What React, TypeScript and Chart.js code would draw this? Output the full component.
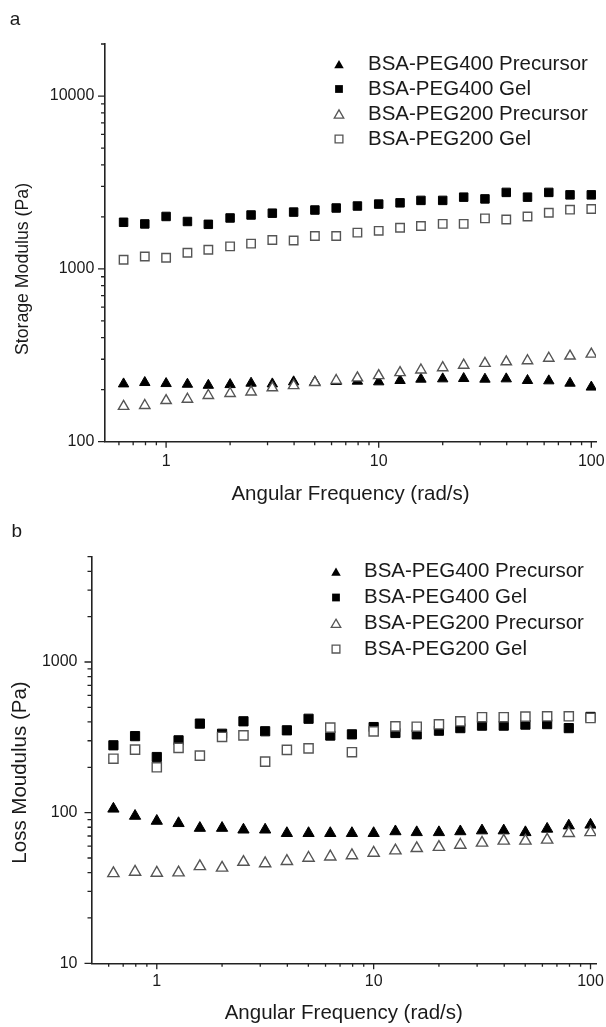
import React, { useEffect, useRef } from 'react';
import { Chart, registerables } from 'chart.js';

Chart.register(...registerables);

// ---------- data ----------
const FREQ = [0.631, 0.794, 1, 1.26, 1.58, 2, 2.51, 3.16, 3.98, 5.01, 6.31, 7.94, 10, 12.6, 15.8, 20, 25.1, 31.6, 39.8, 50.1, 63.1, 79.4, 100];

const SERIES_NAMES = ['BSA-PEG400 Precursor', 'BSA-PEG400 Gel', 'BSA-PEG200 Precursor', 'BSA-PEG200 Gel'];

const STORAGE_PEG400_PRECURSOR = [216, 220, 217, 215, 212, 214, 218, 216, 222, 222, 223, 224, 222, 226, 230, 231, 232, 230, 231, 226, 225, 218, 207];
const STORAGE_PEG400_GEL = [1860, 1820, 2010, 1880, 1810, 1970, 2050, 2100, 2130, 2190, 2250, 2310, 2370, 2410, 2490, 2490, 2600, 2540, 2770, 2600, 2770, 2680, 2680];
const STORAGE_PEG200_PRECURSOR = [160, 162, 173, 176, 185, 190, 194, 205, 211, 220, 226, 234, 241, 251, 260, 268, 277, 284, 290, 294, 304, 313, 321];
const STORAGE_PEG200_GEL = [1130, 1180, 1160, 1240, 1290, 1350, 1400, 1470, 1460, 1550, 1550, 1620, 1660, 1730, 1770, 1820, 1820, 1960, 1930, 2010, 2110, 2200, 2220];

const LOSS_PEG400_PRECURSOR = [106, 95, 88, 85, 79, 79, 77, 77, 73, 73, 73, 73, 73, 75, 74, 74, 75, 76, 76, 74, 78, 82, 83];
const LOSS_PEG400_GEL = [280, 322, 234, 302, 390, 334, 404, 347, 352, 420, 325, 331, 370, 338, 331, 350, 364, 378, 378, 384, 387, 364, 432];
const LOSS_PEG200_PRECURSOR = [39.5, 40.4, 39.8, 40, 44, 43, 47, 46, 47.6, 50, 51, 52, 54, 56, 58, 59, 61, 63, 65, 65, 66, 73, 74];
const LOSS_PEG200_GEL = [228, 262, 200, 269, 239, 318, 326, 218, 261, 267, 367, 252, 346, 374, 372, 386, 404, 430, 430, 434, 436, 436, 425];

const X_TITLE = 'Angular Frequency (rad/s)';
const X_TICKS = [0.6, 0.7, 0.8, 0.9, 1, 2, 3, 4, 5, 6, 7, 8, 9, 10, 20, 30, 40, 50, 60, 70, 80, 90, 100];
const X_TICK_LABELS = [1, 10, 100];

const Y_TICKS_A = [100, 200, 300, 400, 500, 600, 700, 800, 900, 1000, 2000, 3000, 4000, 5000, 6000, 7000, 8000, 9000, 10000, 20000];
const Y_TICK_LABELS_A = [100, 1000, 10000];
const Y_TICKS_B = [10, 20, 30, 40, 50, 60, 70, 80, 90, 100, 200, 300, 400, 500, 600, 700, 800, 900, 1000, 2000, 3000, 4000, 5000];
const Y_TICK_LABELS_B = [10, 100, 1000];

// ---------- styling ----------
const FONT = "'Liberation Sans', Arial, Helvetica, sans-serif";
const TEXT_COLOR = '#1a1a1a';
const AXIS_COLOR = '#222222';
const OPEN_COLOR = '#555555';
const LEGEND_R = 5.5;

const MARKERS = [
  { pointStyle: 'triangle', filled: true, order: 1 },
  { pointStyle: 'rect', filled: true, order: 1 },
  { pointStyle: 'triangle', filled: false, order: 0 },
  { pointStyle: 'rect', filled: false, order: 0 },
];

const PANEL_A = {
  top: 0, height: 515,
  padTop: 44, padRight: 10, yAxisWidth: 105, xAxisHeight: 73.3,
  xMin: 0.516, xMax: 105.2, yMin: 100, yMax: 20000,
  yTicks: Y_TICKS_A, yLabels: Y_TICK_LABELS_A,
  xTickPad: 10.4, yTickPad: 10.7, xTitlePadBottom: 8.7,
  yTitle: 'Storage Modulus (Pa)', yTitleSize: 17.7, yTitleX: 23, yTitleY: 269,
  legendX: 339, legendTextX: 368, legendY0: 64, legendStep: 25,
  label: 'a', labelX: 15, labelY: 20,
  pointR: 6,
  series: [STORAGE_PEG400_PRECURSOR, STORAGE_PEG400_GEL, STORAGE_PEG200_PRECURSOR, STORAGE_PEG200_GEL],
};

const PANEL_B = {
  top: 515, height: 512,
  padTop: 41.7, padRight: 10, yAxisWidth: 91.5, xAxisHeight: 63.7,
  xMin: 0.5, xMax: 106, yMin: 10, yMax: 5000,
  yTicks: Y_TICKS_B, yLabels: Y_TICK_LABELS_B,
  xTickPad: 8.8, yTickPad: 14, xTitlePadBottom: 1.7,
  yTitle: 'Loss Moudulus (Pa)', yTitleSize: 20.5, yTitleX: 20, yTitleY: 257.5,
  legendX: 336, legendTextX: 364, legendY0: 56.7, legendStep: 25.8,
  label: 'b', labelX: 16.7, labelY: 16.7,
  pointR: 6.5,
  series: [LOSS_PEG400_PRECURSOR, LOSS_PEG400_GEL, LOSS_PEG200_PRECURSOR, LOSS_PEG200_GEL],
};

function drawMarker(ctx: CanvasRenderingContext2D, kind: string, filled: boolean, x: number, y: number, r: number) {
  ctx.beginPath();
  if (kind === 'triangle') {
    for (let k = 0; k < 3; k++) {
      const a = (k * 2 * Math.PI) / 3;
      const px = x + Math.sin(a) * r;
      const py = y - Math.cos(a) * r;
      if (k === 0) ctx.moveTo(px, py); else ctx.lineTo(px, py);
    }
    ctx.closePath();
  } else {
    const s = r * Math.SQRT1_2;
    ctx.rect(x - s, y - s, 2 * s, 2 * s);
  }
  if (filled) {
    ctx.fillStyle = '#000';
    ctx.fill();
  } else {
    ctx.fillStyle = '#fff';
    ctx.fill();
    ctx.strokeStyle = OPEN_COLOR;
    ctx.lineWidth = 1.3;
    ctx.stroke();
  }
}

function makeDeco(cfg: any) {
  return {
    id: 'deco',
    afterDraw(chart: any) {
      const ctx: CanvasRenderingContext2D = chart.ctx;
      const area = chart.chartArea;
      const xs = chart.scales.x;
      const ys = chart.scales.y;
      ctx.save();
      // tick marks (major longer, minor shorter), pointing outward
      ctx.strokeStyle = AXIS_COLOR;
      ctx.lineWidth = 1.3;
      ctx.beginPath();
      X_TICKS.forEach((v) => {
        const px = xs.getPixelForValue(v);
        const len = X_TICK_LABELS.includes(v) ? 6 : 3.5;
        ctx.moveTo(px, area.bottom);
        ctx.lineTo(px, area.bottom + len);
      });
      cfg.yTicks.forEach((v: number) => {
        const py = ys.getPixelForValue(v);
        const len = cfg.yLabels.includes(v) ? 7 : 4;
        ctx.moveTo(area.left - len, py);
        ctx.lineTo(area.left, py);
      });
      ctx.stroke();

      // y axis title
      ctx.fillStyle = TEXT_COLOR;
      ctx.font = `${cfg.yTitleSize}px ${FONT}`;
      ctx.textAlign = 'center';
      ctx.textBaseline = 'middle';
      ctx.save();
      ctx.translate(cfg.yTitleX, cfg.yTitleY);
      ctx.rotate(-Math.PI / 2);
      ctx.fillText(cfg.yTitle, 0, 0);
      ctx.restore();

      // legend
      SERIES_NAMES.forEach((name, i) => {
        const y = cfg.legendY0 + i * cfg.legendStep;
        const m = MARKERS[i];
        const my = m.pointStyle === 'triangle' ? y + LEGEND_R / 4 : y;
        drawMarker(ctx, m.pointStyle, m.filled, cfg.legendX, my, LEGEND_R);
        ctx.fillStyle = TEXT_COLOR;
        ctx.font = `20.5px ${FONT}`;
        ctx.textAlign = 'left';
        ctx.textBaseline = 'middle';
        ctx.fillText(name, cfg.legendTextX, y);
      });

      // panel label
      ctx.fillStyle = TEXT_COLOR;
      ctx.font = `19px ${FONT}`;
      ctx.textAlign = 'center';
      ctx.textBaseline = 'middle';
      ctx.fillText(cfg.label, cfg.labelX, cfg.labelY);
      ctx.restore();
    },
  };
}

function Panel({ cfg }: { cfg: any }) {
  const ref = useRef<HTMLCanvasElement | null>(null);
  useEffect(() => {
    if (!ref.current) return;
    const datasets = cfg.series.map((arr: number[], i: number) => {
      const m = MARKERS[i];
      return {
        label: SERIES_NAMES[i],
        data: FREQ.map((x, j) => ({ x, y: arr[j] })),
        pointStyle: m.pointStyle,
        pointRadius: cfg.pointR,
        pointHoverRadius: cfg.pointR,
        pointBackgroundColor: m.filled ? '#000' : '#fff',
        pointBorderColor: m.filled ? '#000' : OPEN_COLOR,
        pointBorderWidth: m.filled ? 1 : 1.4,
        showLine: false,
        order: m.order,
      };
    });
    const chart = new Chart(ref.current, {
      type: 'scatter',
      data: { datasets },
      options: {
        animation: false,
        responsive: true,
        maintainAspectRatio: false,
        events: [],
        layout: { padding: { top: cfg.padTop, right: cfg.padRight, bottom: 0, left: 0 } },
        plugins: { legend: { display: false }, tooltip: { enabled: false } },
        scales: {
          x: {
            type: 'logarithmic',
            position: 'bottom',
            min: cfg.xMin,
            max: cfg.xMax,
            grid: { display: false, drawTicks: false },
            border: { display: true, color: AXIS_COLOR, width: 1.6 },
            afterBuildTicks: (s: any) => { s.ticks = X_TICKS.map((v) => ({ value: v })); },
            afterFit: (s: any) => { s.height = cfg.xAxisHeight; s.paddingLeft = 0; s.paddingRight = 0; },
            ticks: {
              autoSkip: false, maxRotation: 0, minRotation: 0,
              padding: cfg.xTickPad,
              color: TEXT_COLOR,
              font: { family: FONT, size: 16 },
              callback: (v: any) => (X_TICK_LABELS.includes(Number(v)) ? String(v) : ''),
            },
            title: {
              display: true, text: X_TITLE, color: TEXT_COLOR,
              font: { family: FONT, size: 20.5 },
              padding: { top: 0, bottom: cfg.xTitlePadBottom },
            },
          },
          y: {
            type: 'logarithmic',
            position: 'left',
            min: cfg.yMin,
            max: cfg.yMax,
            grid: { display: false, drawTicks: false },
            border: { display: true, color: AXIS_COLOR, width: 1.6 },
            afterBuildTicks: (s: any) => { s.ticks = cfg.yTicks.map((v: number) => ({ value: v })); },
            afterFit: (s: any) => { s.width = cfg.yAxisWidth; s.paddingTop = 0; s.paddingBottom = 0; },
            ticks: {
              autoSkip: false,
              padding: cfg.yTickPad,
              color: TEXT_COLOR,
              font: { family: FONT, size: 16 },
              callback: (v: any) => (cfg.yLabels.includes(Number(v)) ? String(v) : ''),
            },
          },
        },
      },
      plugins: [makeDeco(cfg)],
    } as any);
    return () => chart.destroy();
  }, [cfg]);
  return (
    <div style={{ position: 'absolute', left: 0, top: cfg.top, width: 606, height: cfg.height }}>
      <canvas ref={ref} />
    </div>
  );
}

export default function App() {
  return (
    <div style={{ position: 'absolute', left: 0, top: 0, width: 606, height: 1027, background: '#fff', overflow: 'hidden' }}>
      <Panel cfg={PANEL_A} />
      <Panel cfg={PANEL_B} />
    </div>
  );
}
